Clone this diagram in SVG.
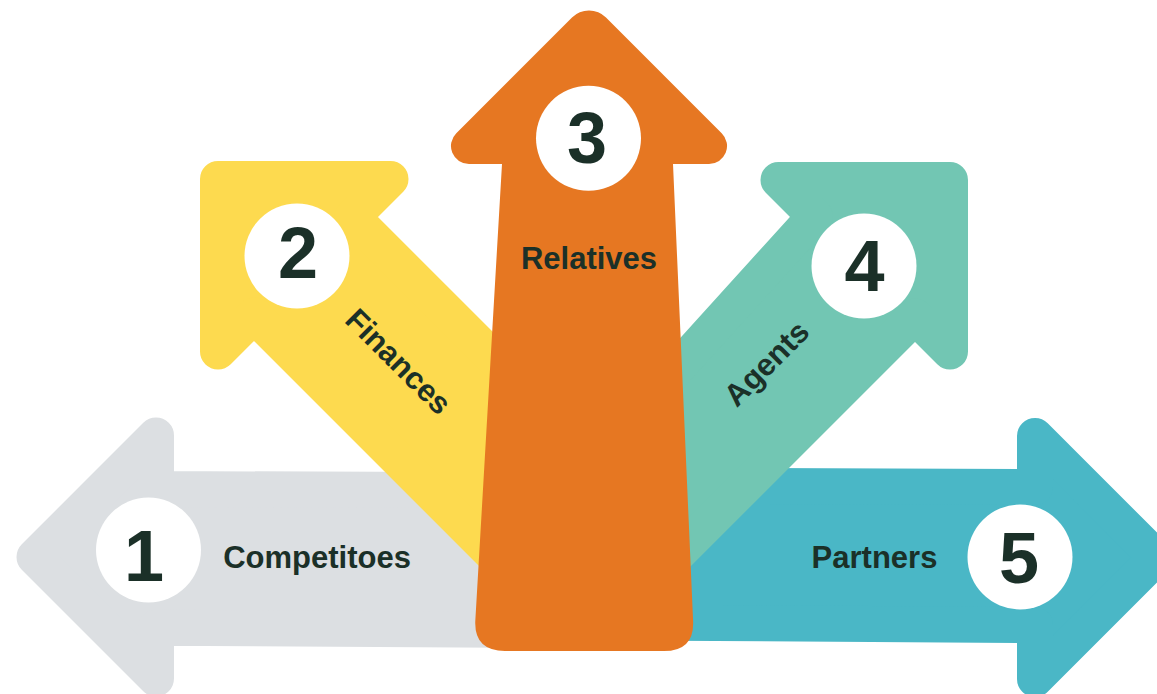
<svg xmlns="http://www.w3.org/2000/svg" width="1157" height="694" viewBox="0 0 1157 694">
<style>
.arr{stroke-width:36;stroke-linejoin:round}
.grey{fill:#DCDFE2;stroke:#DCDFE2}
.blue{fill:#4AB7C6;stroke:#4AB7C6}
.yellow{fill:#FDDA4F;stroke:#FDDA4F}
.teal{fill:#72C6B3;stroke:#72C6B3}
.orange{fill:#E67722}
.badge{fill:#FFFFFF}
.num{font-family:"Liberation Sans",Arial,sans-serif;font-weight:700;font-size:72px;fill:#1B3028;text-anchor:middle}
.lbl{font-family:"Liberation Sans",Arial,sans-serif;font-weight:700;font-size:31px;fill:#1B3028;text-anchor:middle}
</style>
<rect width="1157" height="694" fill="#FFFFFF"/>
<g id="node-1-competitoes">
<polygon class="arr grey" points="34.5,557 156,435.5 156,489 502,490.3 502,629.7 156,627.7 156,678.5"/>
<circle class="badge" cx="148.5" cy="550" r="52.5"/>
<text class="num" x="144" y="581">1</text>
<text class="lbl" x="317" y="568">Competitoes</text>
</g>
<g id="node-5-partners">
<polygon class="arr blue" points="1156.5,557.5 1035,679 1035,625 668,622.7 668,485.7 1035,487 1035,436"/>
<circle class="badge" cx="1020" cy="557" r="52.5"/>
<text class="num" x="1019" y="583">5</text>
<text class="lbl" x="874.5" y="568">Partners</text>
</g>
<g id="node-2-finances">
<polygon class="arr yellow" points="218,179 390.5,179 352.5,217 605,469.5 506.5,568 254,315.5 218,351.5"/>
<circle class="badge" cx="297" cy="256" r="52.5"/>
<text class="num" x="298" y="278">2</text>
<text class="lbl" transform="translate(391,369) rotate(45)" x="0" y="0">Finances</text>
</g>
<g id="node-4-agents">
<polygon class="arr teal" points="950,180 950,351.5 915,316.5 638.5,593 551.9,506.5 814.75,216.25 778.5,180"/>
<circle class="badge" cx="864" cy="266" r="52.5"/>
<text class="num" x="864.5" y="291">4</text>
<text class="lbl" transform="translate(774,371) rotate(-45)" x="0" y="0">Agents</text>
</g>
<g id="node-3-relatives">
<path class="orange" d="M572,17.5 A24,24 0 0 1 606,17.5 L721.7,133.2 A18,18 0 0 1 709,164 L673,164 L693.1,621 Q694.4,651 664,651 L505,651 Q474,651 475.3,621 L502,164 L469,164 A18,18 0 0 1 456.3,133.2 Z"/>
<circle class="badge" cx="588.5" cy="138.3" r="52.5"/>
<text class="num" x="587" y="163">3</text>
<text class="lbl" x="589" y="269">Relatives</text>
</g>
</svg>
